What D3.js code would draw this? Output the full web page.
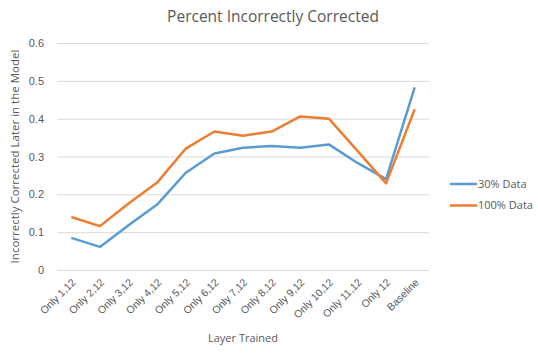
<!DOCTYPE html>
<html>
<head>
<meta charset="utf-8">
<script src="https://cdn.jsdelivr.net/npm/d3@7"></script>
<style>
  body { margin: 0; background: #fff; }
  svg { font-family: "Open Sans", "Liberation Sans", sans-serif; }
</style>
</head>
<body>
<svg id="chart" width="538" height="361"></svg>
<script>
const categories = ["Only 1,12", "Only 2,12", "Only 3,12", "Only 4,12", "Only 5,12", "Only 6,12",
  "Only 7,12", "Only 8,12", "Only 9,12", "Only 10,12", "Only 11,12", "Only 12", "Baseline"];
const data30 = [0.085, 0.061, 0.118, 0.173, 0.257, 0.308, 0.323, 0.328, 0.323, 0.332, 0.283, 0.24, 0.483];
const data100 = [0.14, 0.116, 0.176, 0.231, 0.321, 0.366, 0.355, 0.366, 0.406, 0.4, 0.315, 0.229, 0.425];
const yTicks = [0, 0.1, 0.2, 0.3, 0.4, 0.5, 0.6];
const seriesNames = ["30% Data", "100% Data"];
const colors = ["#5b9bd5", "#ed7d31"];

const margin = { top: 43, left: 57, right: 109, bottom: 91 };
const W = 538, H = 361;
const width = W - margin.left - margin.right;   // 372
const height = H - margin.top - margin.bottom;  // 227

const svg = d3.select("#chart");
const g = svg.append("g").attr("transform", `translate(${margin.left},${margin.top})`);

const x = d3.scaleBand().domain(categories).range([0, width]);
const y = d3.scaleLinear().domain([0, 0.6]).range([height, 0]);

// gridlines
g.append("g")
  .call(d3.axisLeft(y).tickValues(yTicks).tickSize(-width).tickFormat(""))
  .call(a => a.select(".domain").remove())
  .call(a => a.selectAll("line").attr("stroke", "#d9d9d9").attr("stroke-width", 1));

// y labels
g.append("g")
  .call(d3.axisLeft(y).tickValues(yTicks).tickSize(0).tickPadding(13).tickFormat(d3.format("")))
  .call(a => a.select(".domain").remove())
  .call(a => a.selectAll("text").attr("fill", "#595959").style("font-size", "11px"));

// x labels
g.append("g")
  .attr("transform", `translate(0,${height})`)
  .call(d3.axisBottom(x).tickSize(0).tickPadding(0))
  .call(a => a.select(".domain").remove())
  .call(a => a.selectAll("text")
    .attr("fill", "#595959")
    .style("font-size", "10.5px")
    .attr("text-anchor", "end")
    .attr("dy", "0")
    .attr("transform", "translate(5,13) rotate(-45)"));

const line = d3.line().x((d, i) => x(categories[i]) + x.bandwidth() / 2).y(d => y(d));

[data30, data100].forEach((s, k) => {
  g.append("path")
    .datum(s)
    .attr("fill", "none")
    .attr("stroke", colors[k])
    .attr("stroke-width", 2.5)
    .attr("stroke-linejoin", "round")
    .attr("d", line);
});

// title
svg.append("text")
  .attr("x", 273).attr("y", 22)
  .attr("text-anchor", "middle")
  .attr("fill", "#595959")
  .style("font-size", "15.5px")
  .text("Percent Incorrectly Corrected");

// axis titles
svg.append("text")
  .attr("x", margin.left + width / 2).attr("y", 342)
  .attr("text-anchor", "middle")
  .attr("fill", "#595959")
  .style("font-size", "11px")
  .text("Layer Trained");

svg.append("text")
  .attr("transform", `translate(19,${margin.top + height / 2}) rotate(-90)`)
  .attr("text-anchor", "middle")
  .attr("fill", "#595959")
  .style("font-size", "11.5px")
  .text("Incorrectly Corrected Later in the Model");

// legend
const legend = svg.append("g").attr("transform", "translate(450,184)");
seriesNames.forEach((n, k) => {
  const row = legend.append("g").attr("transform", `translate(0,${k * 21.5})`);
  row.append("line").attr("x1", 0).attr("x2", 27).attr("stroke", colors[k]).attr("stroke-width", 2.5);
  row.append("text").attr("x", 28).attr("dy", "0.35em")
    .attr("fill", "#595959").style("font-size", "11px").text(n);
});
</script>
</body>
</html>
